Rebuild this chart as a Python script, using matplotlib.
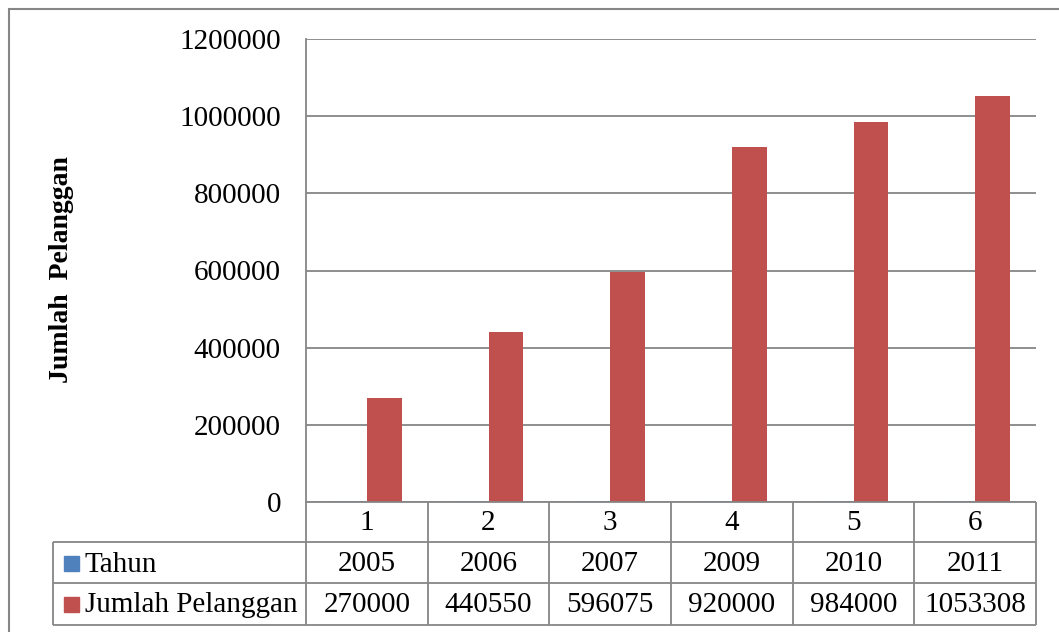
import matplotlib.pyplot as plt
import numpy as np
from matplotlib.patches import Rectangle

plt.rcParams['font.family'] = ['Liberation Serif', 'DejaVu Serif']

# data
kategori = ['1', '2', '3', '4', '5', '6']
tahun = [2005, 2006, 2007, 2009, 2010, 2011]
pelanggan = [270000, 440550, 596075, 920000, 984000, 1053308]
yticks = [0, 200000, 400000, 600000, 800000, 1000000, 1200000]

biru = '#4F81BD'
merah = '#C0504D'
abu = '#868686'
fs = 21

W, H = 1059, 632
fig = plt.figure(figsize=(W / 100, H / 100), dpi=100)

def box(l, t, r, b):
    return [l / W, 1 - b / H, (r - l) / W, (b - t) / H]

# outer frame
fig.patches.append(Rectangle((9 / W, -0.02), 1.0, 1 - 9 / H + 0.02, transform=fig.transFigure,
                             fill=False, edgecolor=abu, lw=1.5))

ax = fig.add_axes(box(306, 39, 1036, 502))
x = np.arange(len(kategori))
bw = 1 / 3.5
ax.bar(x - bw / 2, tahun, bw, color=biru, zorder=3)
ax.bar(x + bw / 2, pelanggan, bw, color=merah, zorder=3)
ax.set_xlim(-0.5, len(kategori) - 0.5)
ax.set_ylim(0, 1200000)
ax.set_yticks(yticks)
ax.set_yticklabels([str(v) for v in yticks])
ax.set_xticks([])
ax.grid(axis='y', color=abu, lw=1.3)
ax.set_axisbelow(True)
ax.tick_params(axis='y', length=0, pad=18, labelsize=fs)
for s in ['top', 'right', 'bottom']:
    ax.spines[s].set_visible(False)
ax.spines['left'].set_color(abu)
ax.spines['left'].set_linewidth(1.3)

fig.text(62 / W, 1 - 270 / H, 'Jumlah  Pelanggan', rotation=90, fontsize=20,
         fontweight='bold', ha='center', va='center')

# data table below the plot
colw = 121.67
left = -0.5 - (306 - 53) / colw
tab = fig.add_axes(box(53, 502, 1036, 625))
tab.set_xlim(left, len(kategori) - 0.5)
tab.set_ylim(123, 0)
tab.axis('off')
kw = dict(color=abu, lw=1.3, clip_on=False)
tab.hlines(0, -0.5, len(kategori) - 0.5, **kw)
tab.hlines([40, 81, 123], left, len(kategori) - 0.5, **kw)
tab.vlines(np.arange(len(kategori) + 1) - 0.5, 0, 123, **kw)
tab.vlines(left, 40, 123, **kw)

for i in range(len(kategori)):
    tab.text(i, 21.5, kategori[i], ha='center', va='center', fontsize=fs)
    tab.text(i, 62, str(tahun[i]), ha='center', va='center', fontsize=fs)
    tab.text(i, 103, str(pelanggan[i]), ha='center', va='center', fontsize=fs)

def px(p):
    return -0.5 + (p - 306) / colw

for yc, warna, nama in [(61, biru, 'Tahun'), (102, merah, 'Jumlah Pelanggan')]:
    tab.add_patch(Rectangle((px(64), yc - 7.5), 15 / colw, 15, color=warna, clip_on=False))
    tab.text(px(85), yc + 1.5, nama, ha='left', va='center', fontsize=fs)

fig.savefig('out.png', dpi=100)
